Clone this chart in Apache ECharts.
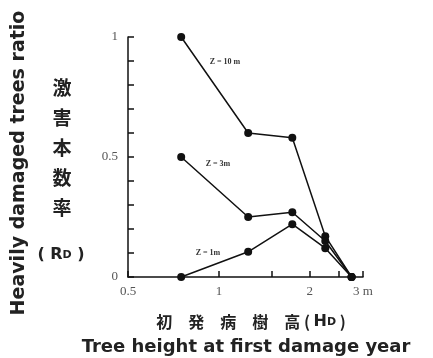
<!DOCTYPE html>
<html>
<head>
<meta charset="utf-8">
<script src="https://cdn.jsdelivr.net/npm/echarts@6/dist/echarts.min.js"></script>
<style>
html,body{margin:0;padding:0;background:#fff;}
#chart{width:433px;height:358px;}
</style>
</head>
<body>
<div id="chart"></div>
<script>
// Tree height at first damage year (m)
const heights = [0.75, 1.25, 1.75, 2.25, 2.75];
// Heavily damaged trees ratio at each distance Z
const ratioZ10 = [1.0, 0.60, 0.58, 0.17, 0.0];
const ratioZ3 = [0.50, 0.25, 0.27, 0.15, 0.0];
const ratioZ1 = [0.0, 0.105, 0.22, 0.12, 0.0];
const xTickValues = [0.5, 1, 1.5, 2, 2.5, 3];
const xLabelValues = [0.5, 1, 2, 3];
const yLabelValues = [0, 0.5, 1];

const chart = echarts.init(document.getElementById('chart'), null, {renderer: 'canvas'});

function pairs(ys) { return heights.map((h, i) => [h, ys[i]]); }

const lineSeries = (name, ys) => ({
  name: name,
  type: 'line',
  data: pairs(ys),
  symbol: 'circle',
  symbolSize: 8,
  itemStyle: {color: '#111'},
  lineStyle: {color: '#111', width: 1.5},
  animation: false,
  z: 3
});

const serif = '"Liberation Serif", "DejaVu Serif", serif';
const sans = '"DejaVu Sans", "Liberation Sans", sans-serif';
const cjk = '"Noto Sans CJK JP", sans-serif';

chart.setOption({
  animation: false,
  grid: {left: 128, right: 70, top: 37, bottom: 81},
  xAxis: {
    type: 'log',
    logBase: 2,
    min: 0.5,
    max: 3,
    axisLine: {lineStyle: {color: '#111', width: 1.5}},
    axisTick: {inside: true, length: 6, customValues: xTickValues, lineStyle: {color: '#111', width: 1.5}},
    axisLabel: {
      customValues: xLabelValues,
      color: '#555',
      fontFamily: serif,
      fontSize: 13,
      margin: 8,
      formatter: v => (v === 3 ? '3 m' : String(v))
    },
    splitLine: {show: false},
    minorTick: {show: false}
  },
  yAxis: {
    type: 'value',
    min: 0,
    max: 1,
    interval: 0.1,
    axisLine: {show: true, lineStyle: {color: '#111', width: 1.5}},
    axisTick: {show: true, inside: true, length: 6, lineStyle: {color: '#111', width: 1.5}},
    axisLabel: {
      customValues: yLabelValues,
      color: '#555',
      fontFamily: serif,
      fontSize: 13,
      margin: 10,
      formatter: v => String(v)
    },
    splitLine: {show: false}
  },
  series: [
    lineSeries('Z = 10 m', ratioZ10),
    lineSeries('Z = 3 m', ratioZ3),
    lineSeries('Z = 1 m', ratioZ1)
  ],
  graphic: [
    {
      type: 'text', x: 19, y: 163, rotation: Math.PI / 2,
      style: {text: 'Heavily damaged trees ratio', font: 'bold 19px ' + sans, fill: '#222', align: 'center', verticalAlign: 'middle'}
    },
    {
      type: 'text', x: 62, y: 148,
      style: {text: '激\n害\n本\n数\n率', font: 'bold 19px ' + cjk, fill: '#222', align: 'center', verticalAlign: 'middle', lineHeight: 30}
    },
    {
      type: 'text', x: 61, y: 255,
      style: {
        text: '( {b|R}{s|D} )',
        font: 'bold 16px ' + sans, fill: '#222', align: 'center', verticalAlign: 'middle',
        rich: {b: {font: 'bold 16px ' + sans, fill: '#222'}, s: {font: 'bold 11px ' + sans, fill: '#222'}}
      }
    },
    {
      type: 'text', x: 251, y: 322,
      style: {
        text: '初　発　病　樹　高 ( {b|H}{s|D} )',
        font: 'bold 16px ' + cjk, fill: '#222', align: 'center', verticalAlign: 'middle',
        rich: {b: {font: 'bold 16px ' + sans, fill: '#222'}, s: {font: 'bold 11px ' + sans, fill: '#222'}}
      }
    },
    {
      type: 'text', x: 246, y: 347,
      style: {text: 'Tree height at first damage year', font: 'bold 18px ' + sans, fill: '#222', align: 'center', verticalAlign: 'middle'}
    },
    {
      type: 'text', x: 225, y: 62,
      style: {text: 'Z = 10 m', font: 'bold 8px ' + serif, fill: '#333', align: 'center', verticalAlign: 'middle'}
    },
    {
      type: 'text', x: 218, y: 164,
      style: {text: 'Z = 3m', font: 'bold 8px ' + serif, fill: '#333', align: 'center', verticalAlign: 'middle'}
    },
    {
      type: 'text', x: 208, y: 253,
      style: {text: 'Z = 1m', font: 'bold 8px ' + serif, fill: '#333', align: 'center', verticalAlign: 'middle'}
    }
  ]
});
</script>
</body>
</html>
